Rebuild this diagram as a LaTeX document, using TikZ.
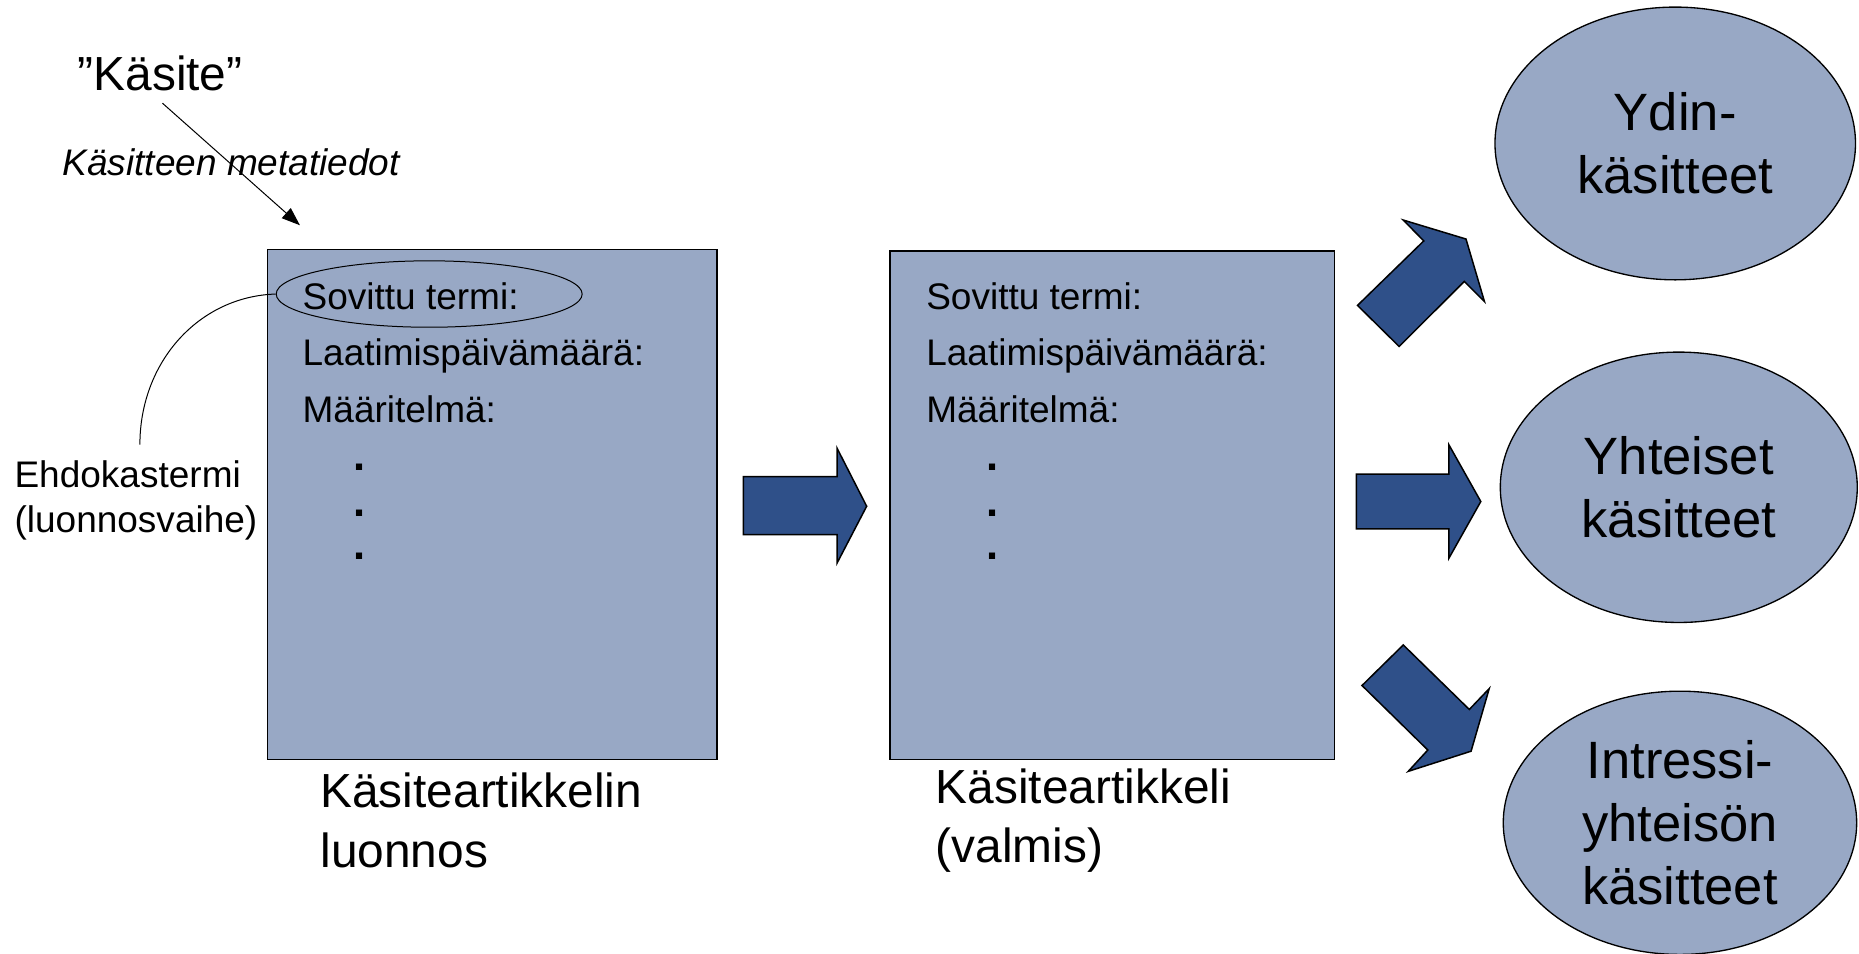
\documentclass[tikz,border=0pt]{standalone}
\usepackage{fontspec}
\setmainfont{Liberation Sans}
\usetikzlibrary{shapes.geometric,arrows.meta}
\definecolor{boxfill}{RGB}{152,168,197}
\definecolor{arrfill}{RGB}{47,80,137}
\begin{document}
\begin{tikzpicture}[x=0.025cm,y=-0.025cm,
  artbox/.style={draw=black, line width=0.9pt, fill=boxfill, inner sep=0pt, anchor=north west},
  blockarrow/.style={draw=black, line width=0.9pt, fill=arrfill, line join=miter},
  small/.style={font=\fontsize{22.2}{27}\selectfont, inner sep=0pt},
  dotmark/.style={font=\fontsize{26}{27}\selectfont\bfseries, inner sep=0pt, anchor=base west},
  big/.style={font=\fontsize{28.7}{35.6}\selectfont, inner sep=0pt, align=left},
  concept/.style={ellipse, draw=black, line width=0.8pt, fill=boxfill, inner sep=0pt, align=center, font=\fontsize{31.5}{37.7}\selectfont},
  thinline/.style={draw=black, line width=0.6pt},
]
\useasboundingbox (0,0) rectangle (1568,804);

% article boxes
\node[artbox, minimum width=9.475cm, minimum height=10.75cm] (draft) at (225,210) {};
\node[artbox, minimum width=9.375cm, minimum height=10.725cm] (final) at (750,211) {};

% texts in the draft box
\node[small, anchor=base west] (d1) at (255,261) {Sovittu termi:};
\node[small, anchor=base west] (d2) at (255,308) {Laatimispäivämäärä:};
\node[small, anchor=base west] (d3) at (255,356) {Määritelmä:};
\node[dotmark] (d4) at (298,397) {.};
\node[dotmark] (d5) at (298,436) {.};
\node[dotmark] (d6) at (298,472) {.};

% texts in the final box
\node[small, anchor=base west] (f1) at (781,261) {Sovittu termi:};
\node[small, anchor=base west] (f2) at (781,308) {Laatimispäivämäärä:};
\node[small, anchor=base west] (f3) at (781,356) {Määritelmä:};
\node[dotmark] (f4) at (832,397) {.};
\node[dotmark] (f5) at (832,436) {.};
\node[dotmark] (f6) at (832,472) {.};

% ellipse round the agreed term
\node[ellipse, draw=black, line width=0.6pt, minimum width=6.45cm, minimum height=1.4cm, inner sep=0pt] (termring) at (362,248) {};

% labels under boxes
\node[big, anchor=west] (draftlbl) at (270,692) {Käsiteartikkelin\\luonnos};
\node[big, anchor=west] (finallbl) at (789,692) {Käsiteartikkeli\\(valmis)};

% candidate term label
\node[small, anchor=west, align=left] (cand) at (12,422) {Ehdokastermi\\(luonnosvaihe)};
\coordinate (candtop) at (118,375);
\draw[thinline] (termring.west) .. controls (168,250) and (118,305) .. (candtop);

% concept and metadata
\node[font=\fontsize{28.7}{34}\selectfont, inner sep=0pt] (kasite) at (135,62) {”Käsite”};
\node[font=\fontsize{22.2}{27}\selectfont\itshape, inner sep=0pt] (meta) at (195,137) {Käsitteen metatiedot};
\coordinate (metatip) at (253,190);
\draw[thinline, -{Triangle[length=11pt,width=8pt]}] (137,87) -- (metatip);

% block arrows
\draw[blockarrow] (627,402) -- (706,402) -- (706,378) -- (731,427) -- (706,475) -- (706,451) -- (627,451) -- cycle;
\draw[blockarrow] (1144,400) -- (1222,400) -- (1222,375) -- (1249,423) -- (1222,471) -- (1222,446) -- (1144,446) -- cycle;
\draw[blockarrow] (1145,257.6) -- (1200.9,203.2) -- (1183.6,185.6) -- (1236.5,201.6) -- (1252.1,254.4) -- (1235.1,237.4) -- (1180.1,292.2) -- cycle;
\draw[blockarrow] (1183.6,544) -- (1239.3,598.4) -- (1256.1,580.8) -- (1240.8,633.6) -- (1187.8,650.6) -- (1204.3,632.6) -- (1148.8,578.2) -- cycle;

% concept groups
\node[concept, minimum width=7.6cm, minimum height=5.75cm] (core) at (1413,121) {Ydin-\\käsitteet};
\node[concept, minimum width=7.525cm, minimum height=5.7cm] (common) at (1416,411) {Yhteiset\\käsitteet};
\node[concept, minimum width=7.45cm, minimum height=5.55cm] (interest) at (1417,694) {Intressi-\\yhteisön\\käsitteet};
\end{tikzpicture}
\end{document}
